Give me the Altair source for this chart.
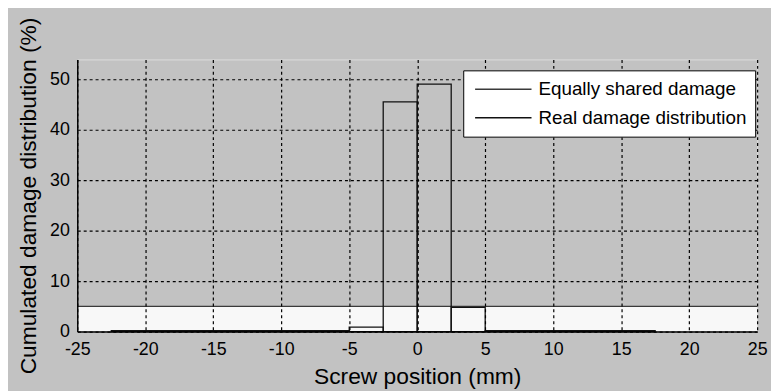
import altair as alt
import pandas as pd

# ---- data ----
bin_left = [-22.5, -20, -17.5, -15, -12.5, -10, -7.5, -5, -2.5, 0, 2.5, 5, 7.5, 10, 12.5, 15]
real_damage = [0.2, 0.2, 0.2, 0.2, 0.2, 0.2, 0.2, 0.9, 45.6, 49.1, 4.8, 0.2, 0.2, 0.2, 0.2, 0.2]
bin_width = 2.5
equal_share = 5.0
series_names = ["Equally shared damage", "Real damage distribution"]
series_colors = ["#3a3a3a", "#111111"]
x_ticks = [-25, -20, -15, -10, -5, 0, 5, 10, 15, 20, 25]
y_ticks = [0, 10, 20, 30, 40, 50]

bars = pd.DataFrame({
    "x0": bin_left,
    "x1": [b + bin_width for b in bin_left],
    "y": real_damage,
    "series": [series_names[1]] * len(bin_left),
})
equal = pd.DataFrame({"y": [equal_share], "y0": [0.0], "series": [series_names[0]]})

FONT = "Liberation Sans"
x_scale = alt.Scale(domain=[-25, 25], nice=False, zero=False)
y_scale = alt.Scale(domain=[0, 54], nice=False)
stroke_scale = alt.Scale(domain=series_names, range=series_colors)

common_axis = dict(
    grid=True, gridColor="black", gridDash=[3, 3], gridWidth=1.2, gridOpacity=1,
    ticks=False, domainColor="black", domainWidth=1.5,
    labelFont=FONT, labelFontSize=18, labelColor="black",
    labelExpr="'' + datum.value", labelFlush=False, labelOverlap=False,
    titleFont=FONT, titleFontSize=23, titleFontWeight="normal", titleColor="black",
    titleBaseline="alphabetic", titleAlign="center", zindex=1,
)
x_axis = alt.Axis(values=x_ticks, title="Screw position (mm)", labelPadding=9,
                  titleX=343.5, titleY=52, **common_axis)
y_axis = alt.Axis(values=y_ticks, title="Cumulated damage distribution (%)", labelPadding=8,
                  titleAngle=270, titleX=-42, titleY=137.5, **common_axis)

legend = alt.Legend(
    title=None, orient="none", legendX=390, legendY=11,
    symbolType="M-3,0H3", symbolSize=361, symbolStrokeWidth=1.5,
    symbolOffset=21.5,
    labelFont=FONT, labelFontSize=19, labelColor="black", labelOffset=25, labelLimit=0,
    padding=8.5, rowPadding=8, strokeColor="black", fillColor="white",
    zindex=2,
)

band = alt.Chart(equal).mark_rect(fill="#f8f8f8").encode(
    y=alt.Y("y:Q", scale=y_scale, axis=y_axis),
    y2="y0:Q",
)

rule = alt.Chart(equal).mark_rule(strokeWidth=1.3).encode(
    y=alt.Y("y:Q", scale=y_scale, axis=y_axis),
    stroke=alt.Stroke("series:N", scale=stroke_scale, legend=legend),
)

hist = alt.Chart(bars).mark_rect(filled=False, strokeWidth=1.3).encode(
    x=alt.X("x0:Q", scale=x_scale, axis=x_axis),
    x2="x1:Q",
    y=alt.Y("y:Q", scale=y_scale, axis=y_axis),
    y2=alt.datum(0),
    stroke=alt.Stroke("series:N", scale=stroke_scale, legend=legend),
)

chart = alt.layer(band, rule, hist).properties(
    width=687, height=275,
    autosize=alt.AutoSizeParams(type="none"),
    padding={"left": 70, "top": 50, "right": 14, "bottom": 58},
    background="#c2c2c2",
).configure_view(stroke=None, fill="white").configure(font=FONT)

chart.save("out.html", embed_options={"renderer": "svg", "actions": False})
